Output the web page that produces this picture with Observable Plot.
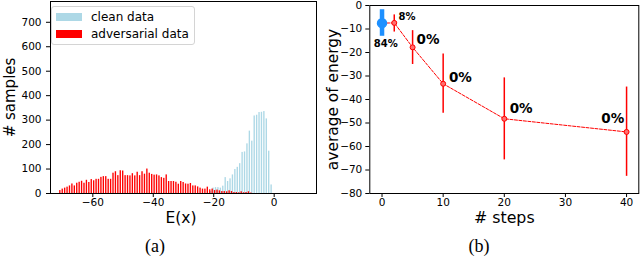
<!DOCTYPE html>
<html><head><meta charset="utf-8">
<script src="https://cdn.jsdelivr.net/npm/d3@7"></script>
<script src="https://cdn.jsdelivr.net/npm/@observablehq/plot@0.6"></script>
<style>
body{margin:0;background:#fff;}
#wrap{position:relative;width:640px;height:258px;overflow:hidden;font-family:"DejaVu Sans";background:#fff;}
#left,#right{position:absolute;top:0;}
#left{left:0}#right{left:320px}
.cap{position:absolute;font-family:"Liberation Serif";font-size:18px;transform:translate(-50%,-50%);color:#000;}
.legend{position:absolute;left:51px;top:6px;width:142px;height:37px;border:1px solid #d4d4d4;border-radius:3px;background:rgba(255,255,255,0.85);font-size:12px;color:#000;}
.legend .sw{position:absolute;left:4px;width:26px;height:8px;}
.legend .lb{position:absolute;left:39px;line-height:14px;}
</style></head>
<body><div id="wrap">
<div id="left"></div><div id="right"></div>
<div class="legend" id="legend"></div>
<div class="cap" style="left:155px;top:246px">(a)</div>
<div class="cap" style="left:479px;top:246px">(b)</div>
</div>
<script>
// ---- Panel (a): histogram of E(x) ----
const binStart = -71, binWidth = 0.8;
const advCounts = [12,18,22,26,31,39,31,42,46,50,42,54,45,57,52,58,58,66,69,69,58,58,83,89,73,93,92,73,73,72,81,72,87,73,89,79,100,83,78,75,76,72,65,62,76,49,49,49,46,38,49,45,39,38,41,31,31,27,22,18,18,26,15,18,12,14,11,8,8,7,11,8,4,4,3,7,3,4,7,2];
const cleanStartBin = 62;
const cleanCounts = [8,22,24,24,22,30,65,49,60,76,98,107,122,168,170,203,255,214,317,320,331,332,335,305,173,35];
const histXTicks = [-60,-40,-20,0];
const histYTicks = [0,100,200,300,400,500,600,700];
const legendItems = ["clean data","adversarial data"];
const legendColors = ["lightblue","red"];

// ---- Panel (b): average energy vs steps ----
const cleanStep = 0, cleanMean = -7.5, cleanLo = -13.1, cleanHi = -1.8;
const advSteps = [2,5,10,20,40];
const advMean = [-7.4,-17.8,-33.3,-48.2,-53.8];
const advLo = [-11.3,-25.1,-45.8,-65.7,-72.7];
const advHi = [-4.0,-10.7,-20.6,-30.8,-34.7];
const annText = ["84%","8%","0%","0%","0%","0%"];
const annX = [0.62,4.08,7.52,12.82,22.76,37.73];
const annY = [-16.3,-4.7,-14.4,-30.7,-43.9,-48.1];
const stepTicks = [0,10,20,30,40];
const energyTicks = [0,-10,-20,-30,-40,-50,-60,-70,-80];

const style = {fontFamily:"DejaVu Sans", fontSize:"10.5px", color:"black", background:"white", overflow:"visible"};

const advBars = advCounts.map((c,i)=>({x1: binStart+i*binWidth+0.02, x2: binStart+i*binWidth+0.47, y:c}));
const cleanBars = cleanCounts.map((c,i)=>({x1: binStart+(cleanStartBin+i)*binWidth+0.33, x2: binStart+(cleanStartBin+i)*binWidth+0.78, y:c}));

const left = Plot.plot({
  width:320, height:230, marginLeft:50, marginRight:4, marginTop:1, marginBottom:37,
  style,
  x:{domain:[-74,14]}, y:{domain:[0,785]},
  marks:[
    Plot.rect(cleanBars,{x1:"x1",x2:"x2",y1:()=>0,y2:"y",fill:legendColors[0]}),
    Plot.rect(advBars,{x1:"x1",x2:"x2",y1:()=>0,y2:"y",fill:legendColors[1]}),
    Plot.frame({stroke:"black"}),
    Plot.axisX({ticks:histXTicks, tickSize:4, tickPadding:1.5, fontSize:10.5, label:null}),
    Plot.axisY({ticks:histYTicks, tickSize:4, tickPadding:5, fontSize:10.5, label:null}),
    Plot.text(["# samples"],{frameAnchor:"left", textAnchor:"middle", lineAnchor:"middle", rotate:-90, dx:-40, fontSize:15}),
    Plot.text(["E(x)"],{frameAnchor:"bottom", textAnchor:"middle", lineAnchor:"middle", dy:24.5, dx:-2.5, fontSize:15.5})
  ]
});
document.getElementById("left").appendChild(left);

const lg = document.getElementById("legend");
legendItems.forEach((t,i)=>{
  const sw = document.createElement("div"); sw.className="sw";
  sw.style.top = (5.5 + i*17.5)+"px"; sw.style.background = legendColors[i]; lg.appendChild(sw);
  const lb = document.createElement("div"); lb.className="lb";
  lb.style.top = (2.5 + i*17.5)+"px"; lb.textContent = t; lg.appendChild(lb);
});

const adv = advSteps.map((s,i)=>({step:s, mean:advMean[i], lo:advLo[i], hi:advHi[i]}));
const cleanPt = [{step:cleanStep, mean:cleanMean, lo:cleanLo, hi:cleanHi}];
const lineData = cleanPt.concat(adv);
const ann = annText.map((t,i)=>({t, x:annX[i], y:annY[i]}));

const right = Plot.plot({
  width:320, height:230, marginLeft:49.3, marginRight:1.7, marginTop:5, marginBottom:37,
  style,
  x:{domain:[-2,42]}, y:{domain:[-80,0]},
  marks:[
    Plot.ruleX(adv,{x:"step", y1:"lo", y2:"hi", stroke:"red", strokeWidth:1.5}),
    Plot.line(lineData,{x:"step", y:"mean", stroke:"red", strokeWidth:1, strokeDasharray:"3,1.5"}),
    Plot.dot(adv,{x:"step", y:"mean", r:2.5, stroke:"red", fill:"#ff7070", strokeWidth:1}),
    Plot.ruleX(cleanPt,{x:"step", y1:"lo", y2:"hi", stroke:"#1e90ff", strokeWidth:4.5}),
    Plot.dot(cleanPt,{x:"step", y:"mean", r:4.5, fill:"#1e90ff", stroke:"#1e90ff"}),
    Plot.text(ann.slice(0,2),{x:"x", y:"y", text:"t", fontWeight:"bold", fontSize:10}),
    Plot.text(ann.slice(2),{x:"x", y:"y", text:"t", fontWeight:"bold", fontSize:13.5}),
    Plot.frame({stroke:"black"}),
    Plot.axisX({ticks:stepTicks, tickSize:4, tickPadding:1.5, fontSize:10.5, label:null}),
    Plot.axisY({ticks:energyTicks, tickSize:4, tickPadding:3.5, fontSize:10.5, label:null}),
    Plot.text(["average of energy"],{frameAnchor:"left", textAnchor:"middle", lineAnchor:"middle", rotate:-90, dx:-36.3, fontSize:15.4}),
    Plot.text(["# steps"],{frameAnchor:"bottom", textAnchor:"middle", lineAnchor:"middle", dy:24.5, fontSize:15.8})
  ]
});
document.getElementById("right").appendChild(right);
</script>
</body></html>
